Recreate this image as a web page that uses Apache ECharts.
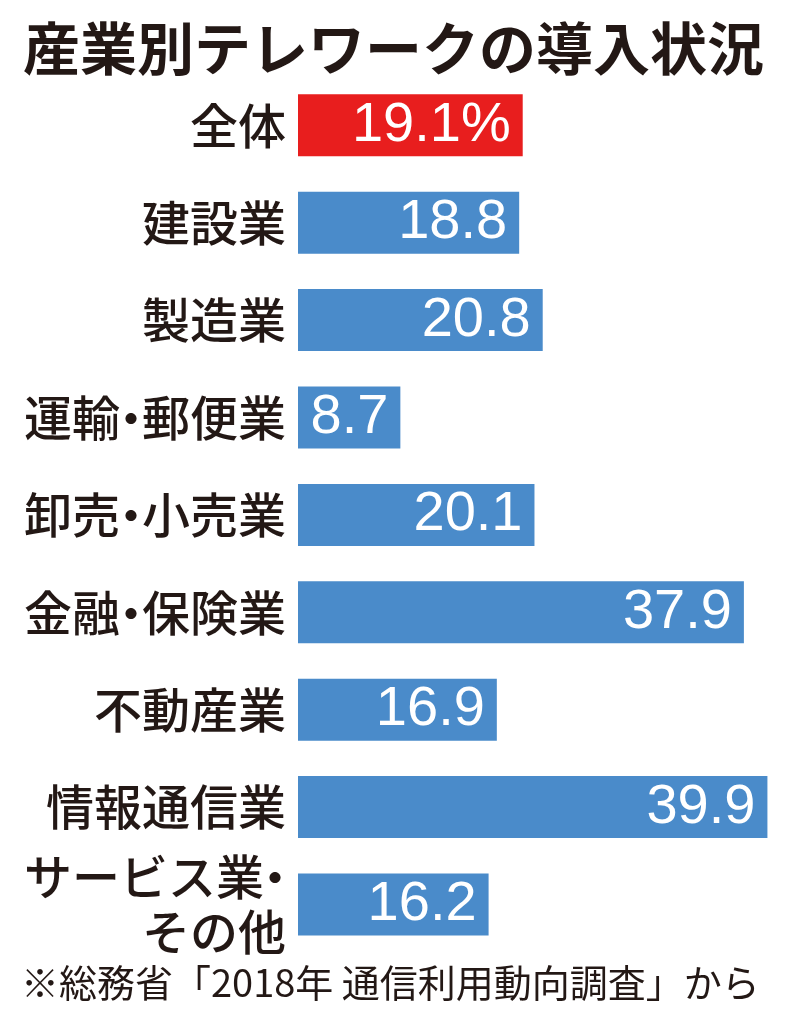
<!DOCTYPE html>
<html>
<head>
<meta charset="utf-8">
<style>
html,body{margin:0;padding:0;background:#fff;}
#chart{width:785px;height:1024px;}
</style>
<script src="https://cdn.jsdelivr.net/npm/echarts@6/dist/echarts.min.js"></script>
</head>
<body>
<div id="chart"></div>
<script>
const titleText = '産業別テレワークの導入状況';
const noteText = '※総務省「2018年 通信利用動向調査」から';
const categories = ['全体', '建設業', '製造業', '運輸・郵便業', '卸売・小売業', '金融・保険業', '不動産業', '情報通信業', 'サービス業・\nその他'];
const values = [19.1, 18.8, 20.8, 8.7, 20.1, 37.9, 16.9, 39.9, 16.2];
const highlightIndex = 0;

const RED = '#e81e1e';
const BLUE = '#4a8bca';
const INK = '#231815';

const chart = echarts.init(document.getElementById('chart'), null, {renderer: 'canvas'});

const data = values.map((v, i) => ({
  value: v,
  itemStyle: {color: i === highlightIndex ? RED : BLUE}
}));

chart.setOption({
  animation: false,
  backgroundColor: '#ffffff',
  title: {
    text: titleText,
    left: 18,
    top: 15,
    textStyle: {
      fontFamily: 'Noto Sans CJK JP',
      fontSize: 57,
      fontWeight: 'bold',
      color: INK
    }
  },
  graphic: [{
    type: 'text',
    left: 21,
    top: 964,
    style: {
      text: noteText,
      font: '400 38px "Noto Sans CJK JP"',
      fill: INK
    }
  }],
  grid: {left: 298, top: 76.6, width: 470.6, height: 876.6, containLabel: false},
  xAxis: {type: 'value', min: 0, max: 40, show: false},
  yAxis: {
    type: 'category',
    data: categories,
    inverse: true,
    axisLine: {show: false},
    axisTick: {show: false},
    splitLine: {show: false},
    axisLabel: {
      margin: 12,
      color: INK,
      fontFamily: 'Noto Sans CJK JP',
      fontSize: 48,
      fontWeight: 500,
      lineHeight: 55,
      formatter: function (s) {
        return s.split('\n').map(line =>
          line.split('・').map(p => p ? '{t|' + p + '}' : '').join('{d|・}')
        ).join('\n');
      },
      rich: {
        t: {fontFamily: 'Noto Sans CJK JP', fontSize: 48, fontWeight: 500, color: INK, lineHeight: 55},
        d: {fontFamily: 'Noto Sans CJK JP', fontSize: 48, fontWeight: 500, color: INK, lineHeight: 55, width: 22, align: 'center'}
      }
    }
  },
  series: [{
    type: 'bar',
    data: data,
    barWidth: 62,
    label: {
      show: true,
      position: 'insideRight',
      distance: 12,
      color: '#ffffff',
      fontFamily: 'Liberation Sans',
      fontSize: 56,
      formatter: function (p) {
        return p.dataIndex === highlightIndex ? p.value.toFixed(1) + '%' : p.value.toFixed(1);
      }
    }
  }]
});
</script>
</body>
</html>
